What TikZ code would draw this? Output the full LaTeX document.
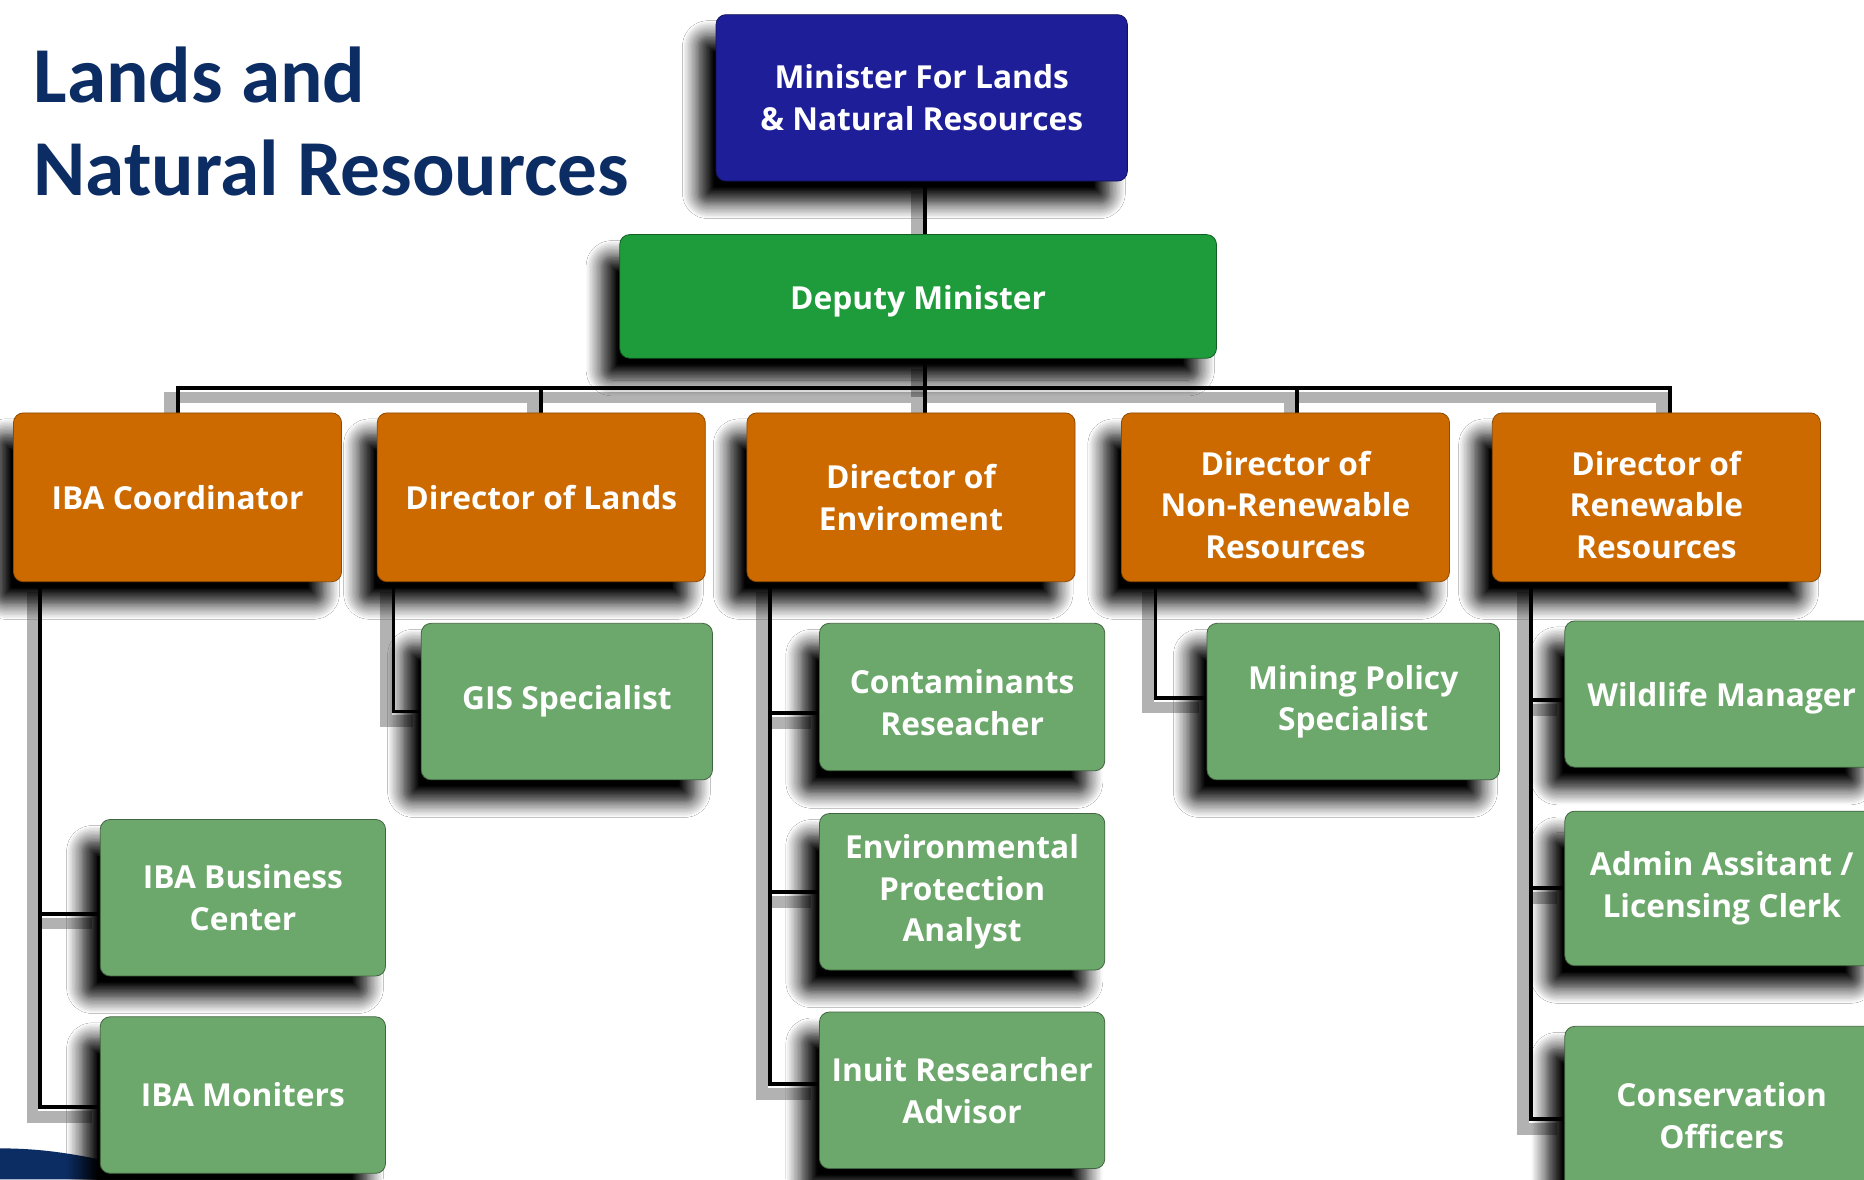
\documentclass[tikz,border=0pt]{standalone}
\usepackage{fontspec}
\newfontfamily\boxfont{Open Sans}
\newfontfamily\titlefont{Carlito}
\usepackage{tikz}
\usetikzlibrary{positioning,calc,backgrounds,shadows.blur}
\definecolor{navy}{RGB}{12,45,100}
\definecolor{minblue}{RGB}{30,31,152}
\definecolor{depgreen}{RGB}{30,156,59}
\definecolor{dirorange}{RGB}{204,106,0}
\definecolor{staffgreen}{RGB}{108,168,107}

\begin{document}
\begin{tikzpicture}[x=0.6pt,y=-0.6pt,
  b/.style={rounded corners=5pt,align=center,anchor=north west,text=white,inner sep=2pt,
    font=\boxfont\bfseries\fontsize{16}{21}\selectfont,
    blur shadow={shadow xshift=-9pt,shadow yshift=-11pt,shadow blur radius=8pt,
      shadow blur steps=12,shadow opacity=100,shadow blur extra rounding=2pt}},
  dir/.style={b,fill=dirorange,draw=dirorange!70!black,minimum width=165.6pt,minimum height=85.2pt},
  staff/.style={b,fill=staffgreen,draw=staffgreen!60!black,minimum width=144pt,minimum height=79pt},
  ln/.style={line width=2pt,preaction={draw,black,opacity=.3,line width=6pt,
    transform canvas={shift={(-4pt,-5pt)}}}}]
\useasboundingbox (0,0) rectangle (1568,992);
\fill[navy] (0,966) .. controls (40,966) and (70,972) .. (110,981) -- (110,992) -- (0,992) -- cycle;
\node[anchor=north west,inner sep=0,align=left,text=navy,
  font=\titlefont\bfseries\fontsize{40}{47}\selectfont] (title) at (28,39) {Lands and\\Natural Resources};
% top of the chart
\node[b,fill=minblue,draw=minblue!60!black,minimum width=207.6pt,minimum height=84pt] (min) at (602,12)
  {Minister For Lands\\\& Natural Resources};
\node[b,fill=depgreen,draw=depgreen!60!black,minimum width=301.2pt,minimum height=62.4pt] (dep) at (521,197)
  {\rule{0pt}{17pt}Deputy Minister};
\coordinate (bus) at (778,326);
% directors
\node[dir] (iba) at (11,347) {IBA Coordinator};
\node[dir] (lands) at (317,347) {Director of Lands};
\node[dir] (env) at (628,347) {Director of\\Enviroment};
\node[dir] (nonren) at (943,347) {\rule{0pt}{20pt}Director of\\Non-Renewable\\Resources};
\node[dir] (ren) at (1255,347) {\rule{0pt}{20pt}Director of\\Renewable\\Resources};
% staff
\node[staff] (ibabc) at (84,689) {IBA Business\\Center};
\node[staff] (ibamon) at (84,855) {IBA Moniters};
\node[staff,minimum width=147pt] (gis) at (354,524) {GIS Specialist};
\node[staff,minimum height=74.4pt] (cont) at (689,524) {\rule{0pt}{18pt}Contaminants\\Reseacher};
\node[staff] (epa) at (689,684) {Environmental\\Protection\\Analyst};
\node[staff] (inuit) at (689,851) {Inuit Researcher\\Advisor};
\node[staff,minimum width=147.6pt] (mining) at (1015,524) {Mining Policy\\Specialist};
\node[staff,minimum width=158.4pt,minimum height=73.8pt] (wild) at (1316,522) {\rule{0pt}{16pt}Wildlife Manager};
\node[staff,minimum width=158.4pt,minimum height=78pt] (admin) at (1316,682) {Admin Assitant /\\Licensing Clerk};
\node[staff,minimum width=158.4pt,minimum height=90pt] (cons) at (1316,863) {Conservation\\Officers};

\begin{scope}[on background layer]
\fill[white] (0,0) rectangle (1568,992);
\draw[ln] (min.south -| bus) -- (dep.north -| bus);
\draw[ln] (dep.south -| bus) -- (bus);
\draw[ln] (iba.north) |- (bus) (lands.north) |- (bus) (bus) -- (bus |- env.north)
  ([xshift=6pt]nonren.north) |- (bus) ([xshift=7pt]ren.north) |- (bus);
\draw[ln] ([xshift=13.8pt]iba.south west) |- ([yshift=-8pt]ibabc.west)
  ([xshift=13.8pt]iba.south west) |- ([yshift=-6pt]ibamon.west);
\draw[ln] ([xshift=8.4pt]lands.south west) |- ([yshift=-5pt]gis.west);
\draw[ln] ([xshift=12pt]env.south west) |- ([yshift=-8pt]cont.west) ([xshift=12pt]env.south west) |- (epa.west)
  ([xshift=12pt]env.south west) |- ([yshift=3pt]inuit.west);
\draw[ln] ([xshift=17.4pt]nonren.south west) |- ([yshift=2pt]mining.west);
\draw[ln] ([xshift=19.8pt]ren.south west) |- ([yshift=-3pt]wild.west) ([xshift=19.8pt]ren.south west) |- (admin.west)
  ([xshift=19.8pt]ren.south west) |- ([yshift=-2pt]cons.west);
\end{scope}
\end{tikzpicture}
\end{document}
